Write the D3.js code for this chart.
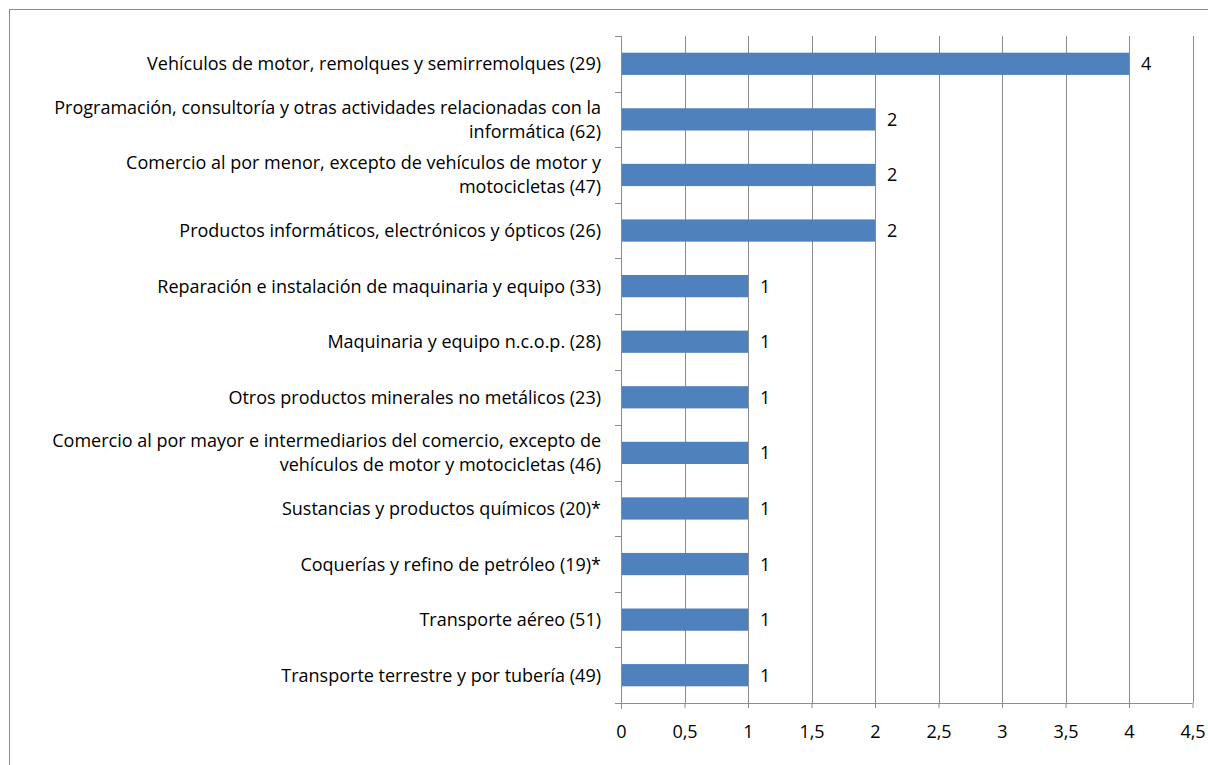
<!DOCTYPE html>
<html>
<head>
<meta charset="utf-8">
<script src="https://cdn.jsdelivr.net/npm/d3@7"></script>
<style>
  html, body { margin: 0; padding: 0; background: #fff; }
  svg { display: block; }
  text { font-family: "Open Sans", Lato, sans-serif; fill: #000; }
</style>
</head>
<body>
<svg id="chart" width="1208" height="765"></svg>
<script>
const categories = [
  ["Vehículos de motor, remolques y semirremolques (29)"],
  ["Programación, consultoría y otras actividades relacionadas con la", "informática (62)"],
  ["Comercio al por menor, excepto de vehículos de motor y", "motocicletas (47)"],
  ["Productos informáticos, electrónicos y ópticos (26)"],
  ["Reparación e instalación de maquinaria y equipo (33)"],
  ["Maquinaria y equipo n.c.o.p. (28)"],
  ["Otros productos minerales no metálicos (23)"],
  ["Comercio al por mayor e intermediarios del comercio, excepto de", "vehículos de motor y motocicletas (46)"],
  ["Sustancias y productos químicos (20)*"],
  ["Coquerías y refino de petróleo (19)*"],
  ["Transporte aéreo (51)"],
  ["Transporte terrestre y por tubería (49)"]
];
const values = [4, 2, 2, 2, 1, 1, 1, 1, 1, 1, 1, 1];
const xTicks = [0, 0.5, 1, 1.5, 2, 2.5, 3, 3.5, 4, 4.5];
const xTickLabels = ["0", "0,5", "1", "1,5", "2", "2,5", "3", "3,5", "4", "4,5"];

(function () {
const svg = d3.select("#chart");
const pL = 621, pR = 1192.5, pT = 36, pB = 703;
const gridColor = "#8c8c8c";
const fs = "18px";

// outer frame
svg.append("rect")
  .attr("x", 9.5).attr("y", 9.5)
  .attr("width", 1300).attr("height", 1000)
  .attr("fill", "none").attr("stroke", "#8c8c8c").attr("stroke-width", 1);

const x = d3.scaleLinear().domain([0, 4.5]).range([pL, pR]);
const idx = categories.map((d, i) => i);
const y = d3.scaleBand().domain(idx).range([pT, pB]).paddingInner(0.6).paddingOuter(0.3);

// gridlines
svg.append("g").selectAll("line").data(xTicks.slice(1)).join("line")
  .attr("x1", d => Math.round(x(d)) + 0.5).attr("x2", d => Math.round(x(d)) + 0.5)
  .attr("y1", pT).attr("y2", pB)
  .attr("stroke", gridColor).attr("stroke-width", 1);

// bars
svg.append("g").selectAll("rect").data(values).join("rect")
  .attr("x", x(0))
  .attr("y", (d, i) => y(i))
  .attr("width", d => x(d) - x(0))
  .attr("height", y.bandwidth())
  .attr("fill", "#4f81bd");

// value labels
svg.append("g").selectAll("text").data(values).join("text")
  .attr("x", d => x(d) + 12)
  .attr("y", (d, i) => y(i) + y.bandwidth() / 2)
  .attr("dy", "0.36em")
  .style("font-size", fs)
  .text(d => d);

// x axis
const xAxis = d3.axisBottom(x).tickValues(xTicks)
  .tickFormat((d, i) => xTickLabels[i]).tickSize(5).tickPadding(17);
const gx = svg.append("g").attr("transform", `translate(0,${pB})`).call(xAxis);
gx.select(".domain").attr("stroke", gridColor).attr("d", `M${pL - 6},0.5H${pR}`);
gx.selectAll(".tick line").attr("stroke", gridColor);
gx.selectAll(".tick text").style("font-size", fs).style("font-family", "'Open Sans', sans-serif").attr("fill", "#000");

// y axis line and ticks
const step = (pB - pT) / categories.length;
svg.append("line").attr("x1", pL + 0.5).attr("x2", pL + 0.5)
  .attr("y1", pT).attr("y2", pB + 6).attr("stroke", gridColor);
svg.append("g").selectAll("line").data(d3.range(categories.length + 1)).join("line")
  .attr("x1", pL - 6).attr("x2", pL)
  .attr("y1", d => Math.round(pT + d * step) + 0.5)
  .attr("y2", d => Math.round(pT + d * step) + 0.5)
  .attr("stroke", gridColor);

// category labels
const lineH = 24;
const lab = svg.append("g").selectAll("text").data(categories).join("text")
  .attr("text-anchor", "end")
  .style("font-size", fs)
  .attr("y", (d, i) => y(i) + y.bandwidth() / 2 - (d.length - 1) * lineH / 2);
lab.each(function(d) {
  const t = d3.select(this);
  d.forEach((s, j) => {
    t.append("tspan").attr("x", 601).attr("dy", j === 0 ? "0.36em" : lineH).text(s);
  });
});
})();
</script>
</body>
</html>
